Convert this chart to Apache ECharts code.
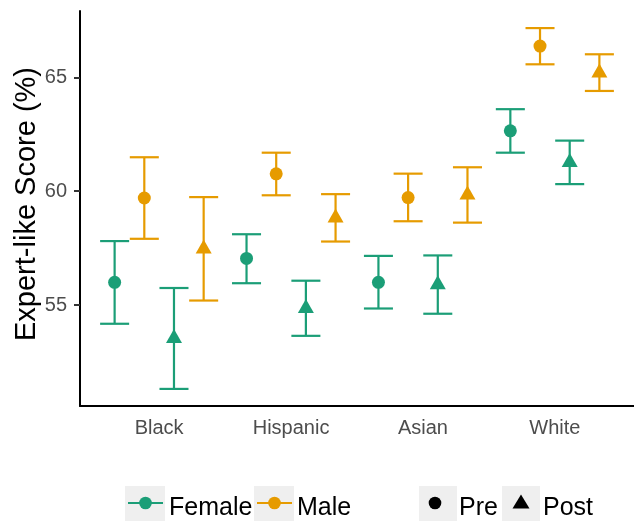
<!DOCTYPE html>
<html>
<head>
<meta charset="utf-8">
<script src="https://cdn.jsdelivr.net/npm/echarts@6/dist/echarts.min.js"></script>
<style>
  html, body { margin: 0; padding: 0; background: #ffffff; }
  #chart { width: 634px; height: 521px; }
</style>
</head>
<body>
<div id="chart"></div>
<script>
// Ethnicity groups along the x axis
const categories = ['Black', 'Hispanic', 'Asian', 'White'];

// Mean expert-like score (%) with lower / upper error limits
const femalePreMean  = [56.00, 57.05, 56.00, 62.65];
const femalePreLow   = [54.18, 55.96, 54.85, 61.69];
const femalePreHigh  = [57.81, 58.11, 57.16, 63.60];

const malePreMean    = [59.70, 60.76, 59.72, 66.37];
const malePreLow     = [57.91, 59.82, 58.68, 65.57];
const malePreHigh    = [61.49, 61.69, 60.77, 67.16];

const femalePostMean = [53.54, 54.86, 55.90, 61.27];
const femalePostLow  = [51.32, 53.65, 54.62, 60.31];
const femalePostHigh = [55.75, 56.07, 57.18, 62.22];

const malePostMean   = [57.47, 58.83, 59.84, 65.20];
const malePostLow    = [55.20, 57.79, 58.62, 64.40];
const malePostHigh   = [59.74, 59.87, 61.05, 66.01];

// Y axis tick values and title
const yTicks = [55, 60, 65];
const yTitle = 'Expert-like Score (%)';

// Legend labels
const sexLabels = ['Female', 'Male'];
const timeLabels = ['Pre', 'Post'];

const GREEN = '#1B9E77';
const ORANGE = '#E69B00';
const FONT = '"Liberation Sans", Arial, sans-serif';

// Dodged groups within each category (dodge width 0.9, four groups)
const groups = [
  { name: 'Female Pre',  mean: femalePreMean,  low: femalePreLow,  high: femalePreHigh,  color: GREEN,  shape: 'circle',   offset: -0.3375 },
  { name: 'Male Pre',    mean: malePreMean,    low: malePreLow,    high: malePreHigh,    color: ORANGE, shape: 'circle',   offset: -0.1125 },
  { name: 'Female Post', mean: femalePostMean, low: femalePostLow, high: femalePostHigh, color: GREEN,  shape: 'triangle', offset: 0.1125 },
  { name: 'Male Post',   mean: malePostMean,   low: malePostLow,   high: malePostHigh,   color: ORANGE, shape: 'triangle', offset: 0.3375 }
];

const CAP_HALF = 0.11; // half width of error bar caps, in category units

function errorBarItem(color) {
  return function (params, api) {
    const x = api.value(0);
    const lo = api.value(1);
    const hi = api.value(2);
    const pLo = api.coord([x, lo]);
    const pHi = api.coord([x, hi]);
    const cL = api.coord([x - CAP_HALF, hi]);
    const cR = api.coord([x + CAP_HALF, hi]);
    const style = { stroke: color, lineWidth: 2.2, fill: 'none' };
    return {
      type: 'group',
      children: [
        { type: 'line', shape: { x1: pLo[0], y1: pLo[1], x2: pHi[0], y2: pHi[1] }, style: style },
        { type: 'line', shape: { x1: cL[0], y1: pHi[1], x2: cR[0], y2: pHi[1] }, style: style },
        { type: 'line', shape: { x1: cL[0], y1: pLo[1], x2: cR[0], y2: pLo[1] }, style: style }
      ]
    };
  };
}

const series = [];
groups.forEach(function (g) {
  series.push({
    name: g.name + ' error',
    type: 'custom',
    renderItem: errorBarItem(g.color),
    data: g.mean.map(function (m, i) { return [i + 1 + g.offset, g.low[i], g.high[i]]; }),
    encode: { x: 0, y: [1, 2] },
    silent: true,
    z: 2
  });
  series.push({
    name: g.name,
    type: 'scatter',
    symbol: g.shape,
    symbolSize: g.shape === 'circle' ? 13 : [16, 14],
    symbolOffset: g.shape === 'circle' ? [0, 0] : [0, -2.3],
    itemStyle: { color: g.color, opacity: 1 },
    data: g.mean.map(function (m, i) { return [i + 1 + g.offset, m]; }),
    silent: true,
    z: 3
  });
});

// Legend drawn as keys with grey backgrounds, plus the rotated y title
const KEY_BG = '#EFEFEF';
const legendY = 486;
const legendH = 40;
const textY = 508;
const legendFont = '25px ' + FONT;
const graphics = [];

graphics.push({
  type: 'text',
  x: 27,
  y: 204,
  rotation: Math.PI / 2,
  style: { text: yTitle, font: '29px ' + FONT, fill: '#000000', textAlign: 'center', textVerticalAlign: 'middle' },
  z: 3
});

const sexKeys = [
  { x: 125, color: GREEN, textX: 169 },
  { x: 254, color: ORANGE, textX: 297 }
];
sexLabels.forEach(function (label, i) {
  const k = sexKeys[i];
  graphics.push({ type: 'rect', left: k.x, top: legendY, shape: { width: 40, height: legendH }, style: { fill: KEY_BG }, z: 1 });
  graphics.push({ type: 'line', shape: { x1: k.x + 3, y1: 503, x2: k.x + 38, y2: 503 }, style: { stroke: k.color, lineWidth: 2.2 }, z: 2 });
  graphics.push({ type: 'circle', shape: { cx: k.x + 20.5, cy: 503, r: 6.3 }, style: { fill: k.color }, z: 3 });
  graphics.push({ type: 'text', x: k.textX, y: textY, style: { text: label, font: legendFont, fill: '#000000', textVerticalAlign: 'middle' }, z: 3 });
});

const timeKeys = [
  { x: 419, shape: 'circle', textX: 459 },
  { x: 502, shape: 'triangle', textX: 543 }
];
timeLabels.forEach(function (label, i) {
  const k = timeKeys[i];
  graphics.push({ type: 'rect', left: k.x, top: legendY, shape: { width: 38, height: legendH }, style: { fill: KEY_BG }, z: 1 });
  if (k.shape === 'circle') {
    graphics.push({ type: 'circle', shape: { cx: k.x + 16, cy: 503, r: 6.3 }, style: { fill: '#000000' }, z: 3 });
  } else {
    graphics.push({ type: 'polygon', shape: { points: [[k.x + 19, 494.5], [k.x + 27.5, 508.5], [k.x + 10.5, 508.5]] }, style: { fill: '#000000' }, z: 3 });
  }
  graphics.push({ type: 'text', x: k.textX, y: textY, style: { text: label, font: legendFont, fill: '#000000', textVerticalAlign: 'middle' }, z: 3 });
});

const chart = echarts.init(document.getElementById('chart'), null, { renderer: 'canvas' });
chart.setOption({
  animation: false,
  backgroundColor: '#ffffff',
  textStyle: { fontFamily: FONT },
  grid: { left: 80, right: 0, top: 11, bottom: 115, containLabel: false, outerBoundsMode: 'none' },
  xAxis: {
    type: 'value',
    min: 0.4,
    max: 4.6,
    splitLine: { show: false },
    axisLine: { show: true, onZero: false, lineStyle: { color: '#000000', width: 2 } },
    axisTick: { show: false },
    axisLabel: {
      customValues: [1, 2, 3, 4],
      formatter: function (v) { return categories[Math.round(v) - 1] || ''; },
      color: '#4D4D4D',
      fontSize: 20,
      margin: 12
    }
  },
  yAxis: {
    type: 'value',
    min: 50.57,
    max: 67.91,
    splitLine: { show: false },
    axisLine: { show: true, onZero: false, lineStyle: { color: '#000000', width: 2 } },
    axisTick: { show: true, customValues: yTicks, length: 6, lineStyle: { color: '#333333', width: 2 } },
    axisLabel: { customValues: yTicks, color: '#4D4D4D', fontSize: 20, margin: 13 }
  },
  series: series,
  graphic: graphics
});
</script>
</body>
</html>
